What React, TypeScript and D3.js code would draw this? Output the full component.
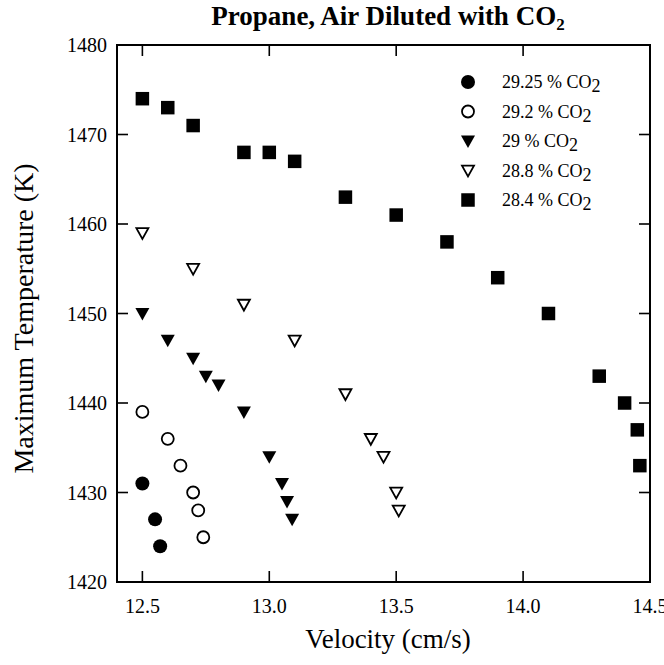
import React from "react";
import * as d3 from "d3";

const xTicks = [12.5, 13.0, 13.5, 14.0, 14.5];
const yTicks = [1420, 1430, 1440, 1450, 1460, 1470, 1480];

const s2925x = [12.5, 12.55, 12.57];
const s2925y = [1431, 1427, 1424];
const s292x = [12.5, 12.6, 12.65, 12.7, 12.72, 12.74];
const s292y = [1439, 1436, 1433, 1430, 1428, 1425];
const s29x = [12.5, 12.6, 12.7, 12.75, 12.8, 12.9, 13.0, 13.05, 13.07, 13.09];
const s29y = [1450, 1447, 1445, 1443, 1442, 1439, 1434, 1431, 1429, 1427];
const s288x = [12.5, 12.7, 12.9, 13.1, 13.3, 13.4, 13.45, 13.5, 13.51];
const s288y = [1459, 1455, 1451, 1447, 1441, 1436, 1434, 1430, 1428];
const s284x = [12.5, 12.6, 12.7, 12.9, 13.0, 13.1, 13.3, 13.5, 13.7, 13.9, 14.1, 14.3, 14.4, 14.45, 14.46];
const s284y = [1474, 1473, 1471, 1468, 1468, 1467, 1463, 1461, 1458, 1454, 1450, 1443, 1440, 1437, 1433];

const seriesNames = ["29.25 % CO", "29.2 % CO", "29 % CO", "28.8 % CO", "28.4 % CO"];
const seriesKinds = ["filledCircle", "openCircle", "filledTri", "openTri", "filledSquare"];

const W = 664, H = 665;
const L = 117, R = 650, T = 45, B = 582;
const FONT = '"Liberation Serif", "DejaVu Serif", "Times New Roman", serif';
const ts = { fontFamily: FONT };

function Marker({ kind, x, y }: { kind: string; x: number; y: number }) {
  if (kind === "filledCircle") return <circle cx={x} cy={y} r={7} fill="#000" />;
  if (kind === "openCircle") return <circle cx={x} cy={y} r={6} fill="#fff" stroke="#000" strokeWidth={1.8} />;
  if (kind === "filledSquare") return <rect x={x - 6.75} y={y - 6.75} width={13.5} height={13.5} fill="#000" />;
  const pts = `${x - 7},${y - 5.5} ${x + 7},${y - 5.5} ${x},${y + 7}`;
  if (kind === "filledTri") return <polygon points={pts} fill="#000" />;
  const pts2 = `${x - 6},${y - 4.8} ${x + 6},${y - 4.8} ${x},${y + 6}`;
  return <polygon points={pts2} fill="#fff" stroke="#000" strokeWidth={1.8} />;
}

export default function App() {
  const x = d3.scaleLinear().domain([12.4, 14.5]).range([L, R]);
  const y = d3.scaleLinear().domain([1420, 1480]).range([B, T]);
  const series = [
    { xs: s2925x, ys: s2925y },
    { xs: s292x, ys: s292y },
    { xs: s29x, ys: s29y },
    { xs: s288x, ys: s288y },
    { xs: s284x, ys: s284y },
  ];
  const tickLen = 11;
  return (
    <svg width={W} height={H} style={{ position: "absolute", left: 0, top: 0, background: "#fff" }}>
      <rect width={W} height={H} fill="#fff" />
      <text x={388} y={25} textAnchor="middle" fontSize={27} fontWeight="bold" style={ts}>
        Propane, Air Diluted with CO<tspan fontSize={17} dy={5}>2</tspan>
      </text>
      <rect x={L} y={T} width={R - L} height={B - T} fill="none" stroke="#000" strokeWidth={2} />
      {xTicks.map((t) => (
        <g key={"x" + t}>
          <line x1={x(t)} x2={x(t)} y1={B} y2={B - tickLen} stroke="#000" strokeWidth={1.6} />
          <line x1={x(t)} x2={x(t)} y1={T} y2={T + tickLen} stroke="#000" strokeWidth={1.6} />
          <text x={x(t)} y={B + 31} textAnchor="middle" fontSize={20} style={ts}>{d3.format(".1f")(t)}</text>
        </g>
      ))}
      {yTicks.map((t) => (
        <g key={"y" + t}>
          <line x1={L} x2={L + tickLen} y1={y(t)} y2={y(t)} stroke="#000" strokeWidth={1.6} />
          <line x1={R} x2={R - tickLen} y1={y(t)} y2={y(t)} stroke="#000" strokeWidth={1.6} />
          <text x={L - 10} y={y(t) + 7} textAnchor="end" fontSize={20} style={ts}>{t}</text>
        </g>
      ))}
      <text x={388} y={648} textAnchor="middle" fontSize={27} style={ts}>Velocity (cm/s)</text>
      <text transform={`translate(33,${(T + B) / 2 + 5}) rotate(-90)`} textAnchor="middle" fontSize={28} style={ts}>
        Maximum Temperature (K)
      </text>
      {series.map((s, i) =>
        s.xs.map((v, j) => <Marker key={i + "-" + j} kind={seriesKinds[i]} x={x(v)} y={y(s.ys[j])} />)
      )}
      {seriesNames.map((n, i) => (
        <g key={"lg" + i}>
          <Marker kind={seriesKinds[i]} x={468} y={82 + i * 29.5} />
          <text x={502} y={82 + i * 29.5 + 6} fontSize={18} style={ts}>
            {n}<tspan dy={4}>2</tspan>
          </text>
        </g>
      ))}
    </svg>
  );
}
